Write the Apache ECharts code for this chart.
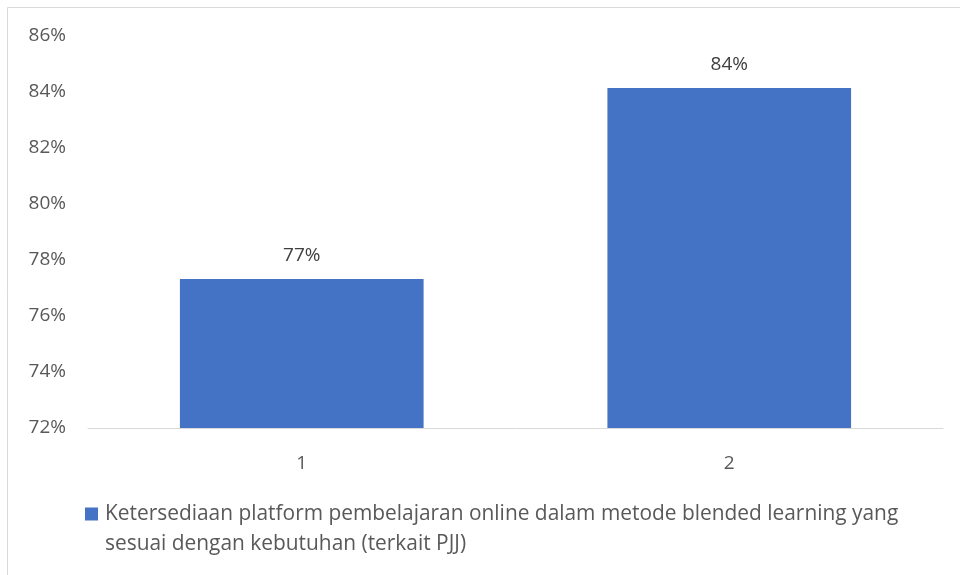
<!DOCTYPE html>
<html><head><meta charset="utf-8">
<script src="https://cdn.jsdelivr.net/npm/echarts@6/dist/echarts.min.js"></script>
<style>html,body{margin:0;padding:0;background:#fff}#c{width:960px;height:575px}</style>
</head><body><div id="c"></div>
<script>
const categories = ['1', '2'];
const values = [77.32, 84.14];
const seriesName = 'Ketersediaan platform pembelajaran online dalam metode blended learning yang sesuai dengan kebutuhan (terkait PJJ)';
const yTicks = [72, 74, 76, 78, 80, 82, 84, 86];

const chart = echarts.init(document.getElementById('c'));
const font = 'Open Sans';
chart.setOption({
  animation: false,
  graphic: [{type:'rect', shape:{x:7.5,y:7.5,width:1000,height:1000}, style:{fill:'none', stroke:'#d9d9d9', lineWidth:1}, z:-10}],
  grid: {left: 88, right: 17, top: 36, bottom: 147},
  xAxis: {
    type: 'category', data: categories,
    axisLine: {lineStyle: {color: '#d9d9d9', width: 1}},
    axisTick: {show: false},
    axisLabel: {color: '#595959', fontSize: 19, fontFamily: font, margin: 26}
  },
  yAxis: {
    type: 'value', min: yTicks[0], max: yTicks[yTicks.length-1], interval: 2,
    axisLine: {show: false}, axisTick: {show: false},
    splitLine: {show: false},
    axisLabel: {color: '#595959', fontSize: 19, fontFamily: font, margin: 22, formatter: v => v + '%'}
  },
  legend: {
    left: 80, top: 494, itemWidth: 13, itemHeight: 60, itemGap: 0,
    icon: 'path://M0,0h0.01v0.01h-0.01z M0,8.5h13v13h-13z M12.99,59.99h0.01v0.01h-0.01z',
    formatter: n => 'Ketersediaan platform pembelajaran online dalam metode blended learning yang\nsesuai dengan kebutuhan (terkait PJJ)',
    textStyle: {color: '#595959', fontSize: 20.9, fontFamily: font, lineHeight: 30, padding: [0,0,0,2]}
  },
  series: [{
    name: seriesName, type: 'bar', data: values, barWidth: '57%',
    itemStyle: {color: '#4472c4'},
    label: {show: true, position: 'top', distance: 14, color: '#404040', fontSize: 19, fontFamily: font,
      formatter: p => Math.round(p.value) + '%'}
  }]
});
</script></body></html>
